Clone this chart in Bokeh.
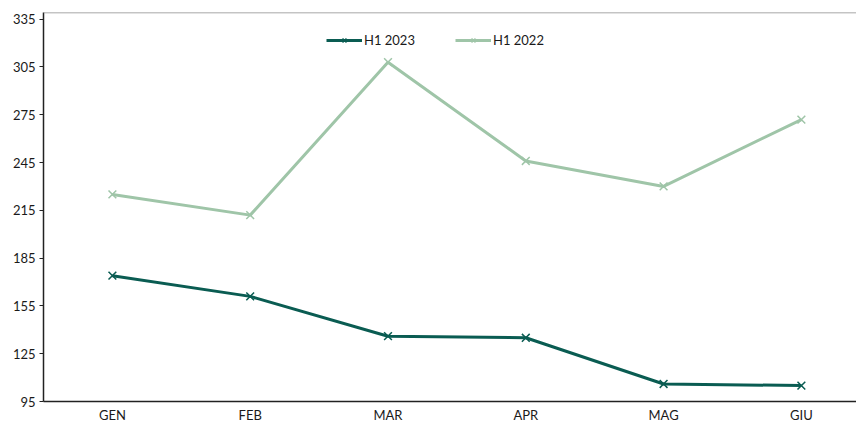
from bokeh.plotting import figure
from bokeh.models import Range1d, FixedTicker, Legend, LegendItem, Span
from bokeh.embed import file_html
from bokeh.resources import INLINE

months = ["GEN", "FEB", "MAR", "APR", "MAG", "GIU"]
h1_2023 = [174, 161, 136, 135, 106, 105]
h1_2022 = [225, 212, 308, 246, 230, 272]
y_ticks = [95, 125, 155, 185, 215, 245, 275, 305, 335]

xs = list(range(len(months)))

C23 = "#0a5c52"
C22 = "#9fc5a8"
FONT = "Lato"

p = figure(width=856, height=425, output_backend="svg", toolbar_location=None,
           x_range=Range1d(-0.5, 5.40), y_range=Range1d(95, 339.2),
           min_border_left=43, min_border_right=0, min_border_top=12, min_border_bottom=20,
           background_fill_color="white", border_fill_color="white")
p.outline_line_color = None
p.xgrid.visible = False
p.ygrid.visible = False

p.xaxis.ticker = FixedTicker(ticks=xs)
p.xaxis.major_label_overrides = {i: m for i, m in zip(xs, months)}
p.xaxis.major_tick_in = 0
p.xaxis.major_tick_out = 0
p.xaxis.minor_tick_line_color = None
p.xaxis.major_label_standoff = 5
p.xaxis.major_label_text_line_height = 1.0
p.xaxis.axis_line_color = "#222222"
p.xaxis.axis_line_width = 1.5

p.yaxis.ticker = FixedTicker(ticks=y_ticks)
p.yaxis.major_tick_in = 0
p.yaxis.major_tick_out = 4
p.yaxis.minor_tick_line_color = None
p.yaxis.major_label_standoff = 4
p.yaxis.axis_line_color = "#222222"
p.yaxis.axis_line_width = 1.5
p.yaxis.major_tick_line_color = "#222222"

for ax in (p.xaxis, p.yaxis):
    ax.major_label_text_font = FONT
    ax.major_label_text_font_size = "13px"
    ax.major_label_text_color = "#1a1a1a"

p.add_layout(Span(location=339.2, dimension="width", line_color="#8a8a8a", line_width=1.5))

l23 = p.line(xs, h1_2023, line_color=C23, line_width=3)
s23 = p.scatter(xs, h1_2023, marker="x", size=11, line_color=C23, line_width=1.5)
l22 = p.line(xs, h1_2022, line_color=C22, line_width=3)
s22 = p.scatter(xs, h1_2022, marker="x", size=11, line_color=C22, line_width=1.5)

legend = Legend(items=[LegendItem(label="H1 2023", renderers=[l23, s23]),
                       LegendItem(label="H1 2022", renderers=[l22, s22])],
                orientation="horizontal", location=(283, 353),
                border_line_color=None, background_fill_alpha=0,
                padding=0, margin=0, spacing=40, glyph_width=36, glyph_height=14,
                label_text_font=FONT, label_text_font_size="13px", label_standoff=2,
                label_text_color="#1a1a1a")
p.add_layout(legend)

open("out.html", "w").write(file_html(p, INLINE))
